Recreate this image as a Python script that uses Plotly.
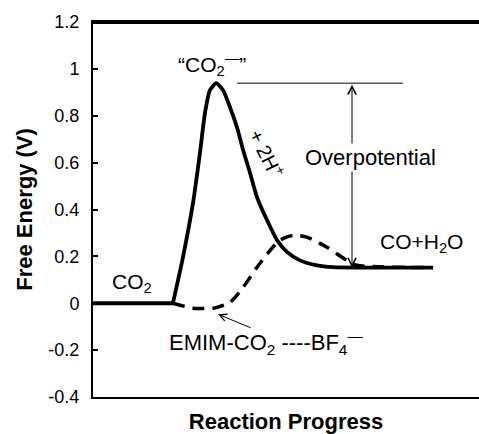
import plotly.graph_objects as go

# Reaction coordinate (arbitrary progress units, 0-100) and free energy (V)
solid_x = [0, 20.7, 23.3, 25.9, 27.7, 29.0, 30.3, 31.9, 33.7, 35.5, 37.3, 38.9,
           40.7, 42.5, 45.1, 47.7, 50.3, 53.6, 58.0, 62.2, 67.4, 88.1]
solid_y = [0, 0, 0.196, 0.427, 0.640, 0.811, 0.909, 0.939, 0.909, 0.836, 0.751, 0.653,
           0.555, 0.452, 0.354, 0.269, 0.218, 0.183, 0.162, 0.154, 0.152, 0.152]

dash_x = [20.7, 25.9, 31.1, 35.5, 38.9, 42.5, 45.9, 48.4, 51.8, 55.4, 60.6, 65.8, 68.4, 88.1]
dash_y = [0, -0.021, -0.021, 0.004, 0.068, 0.154, 0.226, 0.269, 0.290, 0.282, 0.239,
          0.183, 0.162, 0.152]

y_tickvals = [1.2, 1.0, 0.8, 0.6, 0.4, 0.2, 0.0, -0.2, -0.4]
y_ticktext = ["1.2", "1", "0.8", "0.6", "0.4", "0.2", "0", "-0.2", "-0.4"]

peak_level = 0.939
final_level = 0.152

FONT = "Liberation Sans, Arial, sans-serif"

fig = go.Figure()
# solid path: flat start, smooth barrier, flat end
fig.add_trace(go.Scatter(x=solid_x[:2], y=solid_y[:2], mode="lines",
                         line=dict(color="black", width=3.8),
                         hoverinfo="skip", showlegend=False))
fig.add_trace(go.Scatter(x=solid_x[1:-1], y=solid_y[1:-1], mode="lines",
                         line=dict(color="black", width=3.8, shape="spline", smoothing=0.6),
                         hoverinfo="skip", showlegend=False))
fig.add_trace(go.Scatter(x=solid_x[-2:], y=solid_y[-2:], mode="lines",
                         line=dict(color="black", width=3.8),
                         hoverinfo="skip", showlegend=False))
fig.add_trace(go.Scatter(x=dash_x, y=dash_y, mode="lines",
                         line=dict(color="black", width=3.5, dash="12px,8px", shape="spline", smoothing=0.6),
                         hoverinfo="skip", showlegend=False))
# horizontal reference at the peak level
fig.add_trace(go.Scatter(x=[37.3, 80.3], y=[peak_level, peak_level], mode="lines",
                         line=dict(color="black", width=1), hoverinfo="skip", showlegend=False))

ann = []
# overpotential double arrow
ann.append(dict(x=67.1, y=final_level, ax=67.1, ay=peak_level, xref="x", yref="y",
                axref="x", ayref="y", showarrow=True, arrowhead=5, startarrowhead=5,
                arrowside="end+start", arrowwidth=1, arrowsize=1.6, startarrowsize=1.6,
                arrowcolor="black", text=""))
ann.append(dict(x=72.0, y=0.623, xref="x", yref="y", text="Overpotential", showarrow=False,
                bgcolor="white", font=dict(family=FONT, size=22, color="black")))
# EMIM arrow
ann.append(dict(x=32.4, y=-0.047, ax=41.2, ay=-0.107, xref="x", yref="y", axref="x", ayref="y",
                showarrow=True, arrowhead=5, arrowwidth=1, arrowsize=1.4, arrowcolor="black", text=""))
ann.append(dict(x=44.9, y=-0.166, xref="x", yref="y",
                text="EMIM-CO<sub>2</sub> ----BF<sub>4</sub><sup>—</sup>", showarrow=False,
                font=dict(family=FONT, size=22, color="black")))
ann.append(dict(x=10.1, y=0.085, xref="x", yref="y", text="CO<sub>2</sub>", showarrow=False,
                font=dict(family=FONT, size=21, color="black")))
ann.append(dict(x=30.8, y=1.02, xref="x", yref="y", text="“CO<sub>2</sub><sup>—</sup>”", showarrow=False,
                font=dict(family=FONT, size=21, color="black")))
ann.append(dict(x=85.0, y=0.256, xref="x", yref="y", text="CO+H<sub>2</sub>O", showarrow=False,
                font=dict(family=FONT, size=21, color="black")))
ann.append(dict(x=45.3, y=0.64, xref="x", yref="y", text="+ 2H<sup>+</sup>", showarrow=False,
                textangle=64, font=dict(family=FONT, size=20, color="black")))

fig.update_layout(
    width=479, height=434,
    margin=dict(l=93, r=0, t=22, b=37, autoexpand=False),
    paper_bgcolor="white", plot_bgcolor="white",
    annotations=ann,
    font=dict(family=FONT, color="black"),
    shapes=[dict(type="line", xref="x", yref="y", x0=0, x1=100, y0=1.196, y1=1.196,
                 layer="above", line=dict(color="black", width=2))],
)
fig.update_xaxes(range=[0, 100], showgrid=False, zeroline=False, showticklabels=False,
                 ticks="", showline=True, linecolor="black", linewidth=2, mirror=True,
                 title=dict(text="<b>Reaction Progress</b>", standoff=16,
                            font=dict(family=FONT, size=22, color="black")))
fig.update_yaxes(range=[-0.4, 1.2], showgrid=False, zeroline=False,
                 tickvals=y_tickvals, ticktext=y_ticktext, ticks="inside", ticklen=5,
                 tickwidth=1.5, tickcolor="black", ticklabelstandoff=8,
                 tickfont=dict(family=FONT, size=18, color="black"),
                 showline=True, linecolor="black", linewidth=2, mirror=False,
                 title=dict(text="<b>Free Energy (V)</b>", standoff=10,
                            font=dict(family=FONT, size=22, color="black")))

fig.write_html("out.html", config={"displayModeBar": False},
               post_script="document.body.style.margin='0px';")
